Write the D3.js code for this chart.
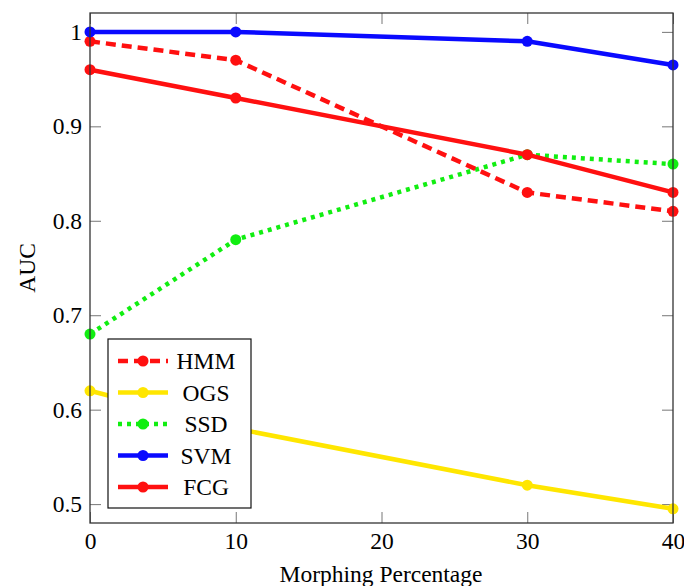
<!DOCTYPE html>
<html>
<head>
<meta charset="utf-8">
<script src="https://cdn.jsdelivr.net/npm/d3@7"></script>
<style>
  body { margin: 0; background: #fff; }
  svg text { font-family: "Liberation Serif", "Times New Roman", Times, serif; fill: #000; }
</style>
</head>
<body>
<div id="viz"></div>
<script>
const width = 684;
const height = 586;
const marginLeft = 90;
const marginRight = 11;
const marginTop = 13;
const marginBottom = 63;

// data
const morphing = [0, 10, 30, 40];
const hmm = [0.99, 0.97, 0.83, 0.81];
const ogs = [0.62, 0.58, 0.52, 0.495];
const ssd = [0.68, 0.78, 0.87, 0.86];
const svm = [1.0, 1.0, 0.99, 0.965];
const fcg = [0.96, 0.93, 0.87, 0.83];
const xTicks = [0, 10, 20, 30, 40];
const yTicks = [0.5, 0.6, 0.7, 0.8, 0.9, 1];

const series = [
  { name: 'HMM', values: hmm, color: '#ff1010', dash: '10,6' },
  { name: 'OGS', values: ogs, color: '#ffe600', dash: null },
  { name: 'SSD', values: ssd, color: '#11ee11', dash: '4,5' },
  { name: 'SVM', values: svm, color: '#0a0aff', dash: null },
  { name: 'FCG', values: fcg, color: '#ff1010', dash: null },
];
// draw order so blue sits on top like the original
const drawOrder = ['OGS', 'SSD', 'HMM', 'FCG', 'SVM'];

const fontSize = '23.5px';

const svg = d3
  .select('#viz')
  .append('svg')
  .attr('width', width)
  .attr('height', height)
  .attr('font-family', 'Liberation Serif');

const xScale = d3
  .scaleLinear()
  .domain([0, 40])
  .range([marginLeft, width - marginRight]);

const yScale = d3
  .scaleLinear()
  .domain([0.48, 1.02])
  .range([height - marginBottom, marginTop]);

const tickLen = 11;
const fmt = (d) => (d === 1 ? '1' : d3.format('.1f')(d));

// bottom + top ticks
svg
  .append('g')
  .attr('transform', `translate(0, ${height - marginBottom})`)
  .call(d3.axisBottom(xScale).tickValues(xTicks).tickSizeInner(-tickLen).tickSizeOuter(0).tickPadding(9));
svg
  .append('g')
  .attr('transform', `translate(0, ${marginTop})`)
  .call(d3.axisTop(xScale).tickValues(xTicks).tickSizeInner(-tickLen).tickSizeOuter(0).tickFormat(''));

// left + right ticks
svg
  .append('g')
  .attr('transform', `translate(${marginLeft}, 0)`)
  .call(d3.axisLeft(yScale).tickValues(yTicks).tickSizeInner(-tickLen).tickSizeOuter(0).tickPadding(8).tickFormat(fmt));
svg
  .append('g')
  .attr('transform', `translate(${width - marginRight}, 0)`)
  .call(d3.axisRight(yScale).tickValues(yTicks).tickSizeInner(-tickLen).tickSizeOuter(0).tickFormat(''));

svg.selectAll('g').attr('font-family', null).attr('font-size', null);
svg.selectAll('.domain').remove();
svg.selectAll('.tick line').attr('stroke', '#777').attr('stroke-width', 1);
svg.selectAll('.tick text').style('font-size', fontSize).attr('fill', '#000');

const line = d3
  .line()
  .x((d, i) => xScale(morphing[i]))
  .y((d) => yScale(d));

const lookup = {};
series.forEach((s) => (lookup[s.name] = s));

drawOrder.forEach((name) => {
  const s = lookup[name];
  const g = svg.append('g');
  g.append('path')
    .datum(s.values)
    .attr('d', line)
    .attr('fill', 'none')
    .attr('stroke', s.color)
    .attr('stroke-width', 4.5)
    .attr('stroke-dasharray', s.dash);
  g.selectAll('circle')
    .data(s.values)
    .enter()
    .append('circle')
    .attr('cx', (d, i) => xScale(morphing[i]))
    .attr('cy', (d) => yScale(d))
    .attr('r', 5.5)
    .attr('fill', s.color);
});

// frame
svg
  .append('rect')
  .attr('x', marginLeft)
  .attr('y', marginTop)
  .attr('width', width - marginLeft - marginRight)
  .attr('height', height - marginTop - marginBottom)
  .attr('fill', 'none')
  .attr('stroke', '#333')
  .attr('stroke-width', 1.3);

// legend
const legend = svg.append('g').attr('transform', 'translate(108, 339)');
legend
  .append('rect')
  .attr('width', 143)
  .attr('height', 169)
  .attr('fill', '#fff')
  .attr('stroke', '#111')
  .attr('stroke-width', 1.2);

series.forEach((s, i) => {
  const y = 22 + i * 31.5;
  legend
    .append('line')
    .attr('x1', 10)
    .attr('x2', 60)
    .attr('y1', y)
    .attr('y2', y)
    .attr('stroke', s.color)
    .attr('stroke-width', 4.5)
    .attr('stroke-dasharray', s.dash);
  legend
    .append('circle')
    .attr('cx', 35)
    .attr('cy', y)
    .attr('r', 5.5)
    .attr('fill', s.color);
  legend
    .append('text')
    .attr('x', 98)
    .attr('y', y)
    .attr('dy', '0.35em')
    .attr('text-anchor', 'middle')
    .style('font-size', fontSize)
    .text(s.name);
});

// axis titles
svg
  .append('text')
  .attr('x', 381)
  .attr('y', 582)
  .attr('text-anchor', 'middle')
  .style('font-size', fontSize)
  .text('Morphing Percentage');

svg
  .append('text')
  .attr('transform', `translate(35, ${(marginTop + height - marginBottom) / 2}) rotate(-90)`)
  .attr('text-anchor', 'middle')
  .style('font-size', fontSize)
  .text('AUC');
</script>
</body>
</html>
